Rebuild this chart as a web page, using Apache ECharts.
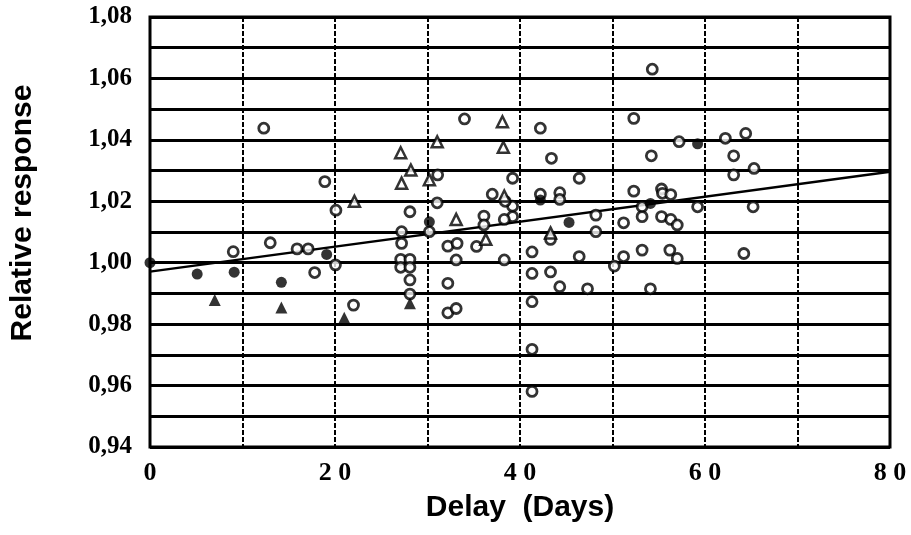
<!DOCTYPE html>
<html>
<head>
<meta charset="utf-8">
<script src="https://cdn.jsdelivr.net/npm/echarts@6/dist/echarts.min.js"></script>
<style>html,body{margin:0;padding:0;background:#fff}#c{width:911px;height:535px}</style>
</head>
<body>
<div id="c"></div>
<script>
// Axis settings
const xMin = 0, xMax = 80, xStep = 10, xLabelStep = 20;
const yMin = 0.94, yMax = 1.08, yStep = 0.01;
const xTitle = 'Delay  (Days)';
const yTitle = 'Relative response';

// Open circles [delay, relative response]
const openCircles = [
  [9.0,1.0036],[12.3,1.0438],[13.0,1.0065],[15.9,1.0045],[17.1,1.0045],[17.8,0.9968],[18.9,1.0264],
  [20.1,1.0171],[20.05,0.9993],[22.0,0.9862],
  [27.2,1.0101],[27.2,1.0063],[27.1,1.0011],[28.1,1.0011],[27.1,0.9985],[28.1,0.9985],[28.1,1.0166],
  [28.1,0.9944],[28.1,0.9898],
  [30.2,1.0101],[31.1,1.0286],[31.05,1.0195],[32.2,1.0054],[33.2,1.0063],[33.1,1.0009],[32.2,0.9933],
  [32.2,0.9837],[33.1,0.9851],
  [34.0,1.0468],[35.3,1.0053],[36.1,1.0152],[36.1,1.0123],[37.0,1.0223],[38.3,1.0009],[39.2,1.0275],
  [39.2,1.0184],[39.2,1.0150],[38.3,1.0141],[38.4,1.0200],
  [41.3,1.0035],[41.3,0.9965],[41.3,0.9873],[41.3,0.9718],[41.3,0.9581],
  [42.2,1.0438],[42.2,1.0223],[43.4,1.0340],[43.3,1.0076],[43.3,0.9970],[44.3,1.0228],[44.3,1.0206],[44.3,0.9922],
  [46.4,1.0275],[46.4,1.0020],[47.3,0.9915],[48.2,1.0155],[48.2,1.0101],[50.2,0.9989],[51.2,1.0130],[51.2,1.0020],
  [52.3,1.0470],[52.3,1.0233],[53.2,1.0182],[53.2,1.0150],[53.2,1.0041],[54.3,1.0630],[54.2,1.0348],[54.1,0.9915],
  [55.3,1.0240],[55.4,1.0226],[56.3,1.0222],[55.3,1.0150],[56.3,1.0141],[57.0,1.0123],[56.2,1.0041],[57.0,1.0014],
  [57.2,1.0394],[59.2,1.0182],[62.2,1.0405],[63.1,1.0348],[63.1,1.0286],[64.4,1.0421],[65.3,1.0307],
  [65.2,1.0182],[64.2,1.0030]
];
// Filled circles
const filledCircles = [
  [0,1.0000],[5.1,0.9963],[9.1,0.9969],[14.2,0.9936],[19.1,1.0027],[30.2,1.0133],[42.2,1.0204],
  [45.3,1.0131],[54.1,1.0193],[59.2,1.0387]
];
// Open triangles
const openTriangles = [
  [22.1,1.0200],[27.1,1.0358],[28.2,1.0302],[27.2,1.0259],[30.2,1.0270],[31.05,1.0394],[33.1,1.0141],
  [36.3,1.0076],[38.1,1.0459],[38.2,1.0376],[38.3,1.0217],[43.3,1.0097]
];
// Filled triangles
const filledTriangles = [
  [7.0,0.9879],[14.2,0.9854],[21.0,0.9821],[28.1,0.9868]
];
// Fitted line end points
const fitX = [0, 80];
const fitY = [0.9971, 1.0296];

const chart = echarts.init(document.getElementById('c'), null, {renderer:'canvas'});
const serif = 'Liberation Serif';
const sans = 'Liberation Sans';
chart.setOption({
  animation: false,
  backgroundColor: '#fff',
  grid: {left:148, right:21, top:17, bottom:88, show:true, borderColor:'#000', borderWidth:3, backgroundColor:'transparent'},
  xAxis: {
    type:'value', min:xMin, max:xMax, interval:xStep,
    axisLine:{show:false}, axisTick:{show:false},
    splitLine:{show:true, lineStyle:{color:'#000', width:2, type:[5,2]}},
    axisLabel:{margin:13, color:'#000', fontFamily:serif, fontWeight:'bold', fontSize:26,
      formatter: v => (Math.round(v) % xLabelStep === 0) ? String(Math.round(v)).split('').join(' ') : ''},
    name:xTitle, nameLocation:'middle', nameGap:46,
    nameTextStyle:{color:'#000', fontFamily:sans, fontWeight:'bold', fontSize:30, padding:[0,0,0,0]}
  },
  yAxis: {
    type:'value', min:yMin, max:yMax, interval:yStep,
    axisLine:{show:false}, axisTick:{show:false},
    splitLine:{show:true, lineStyle:{color:'#000', width:3}},
    axisLabel:{margin:18, color:'#000', fontFamily:serif, fontWeight:'bold', fontSize:25,
      formatter: v => { const k = Math.round(v*100); return k % 2 === 0 ? (k/100).toFixed(2).replace('.', ',') : ''; }},
    name:yTitle, nameLocation:'middle', nameGap:112, nameRotate:90,
    nameTextStyle:{color:'#000', fontFamily:sans, fontWeight:'bold', fontSize:30, padding:[0,0,0,38]}
  },
  series: [
    {type:'line', data: fitX.map((x,i)=>[x, fitY[i]]), symbol:'none', lineStyle:{color:'#000', width:2.5}, z:3},
    {type:'scatter', data: openCircles, symbol:'circle', symbolSize:10,
      itemStyle:{color:'#fff', borderColor:'#000', borderWidth:2.8}, z:4},
    {type:'scatter', data: filledCircles, symbol:'circle', symbolSize:11,
      itemStyle:{color:'#000', borderColor:'#000', borderWidth:0}, z:4},
    {type:'scatter', data: openTriangles, symbol:'triangle', symbolSize:11,
      itemStyle:{color:'#fff', borderColor:'#000', borderWidth:2.5}, z:4},
    {type:'scatter', data: filledTriangles, symbol:'triangle', symbolSize:12,
      itemStyle:{color:'#000', borderColor:'#000', borderWidth:0}, z:4}
  ]
});
</script>
</body>
</html>
